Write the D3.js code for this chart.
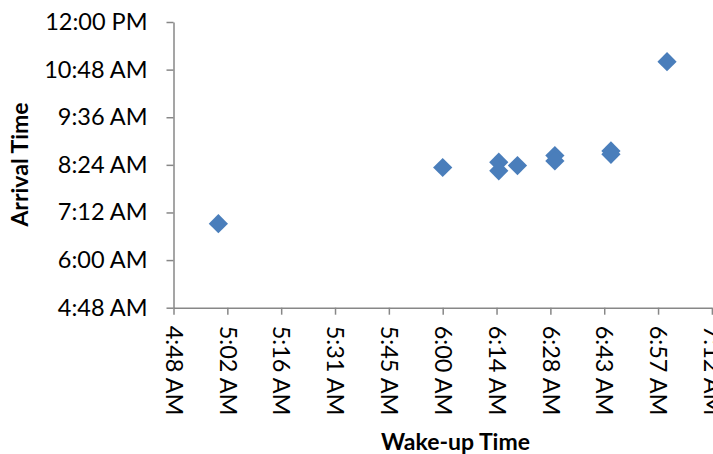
<!DOCTYPE html>
<html>
<head>
<meta charset="utf-8">
<script src="https://cdn.jsdelivr.net/npm/d3@7"></script>
<style>
  html, body { margin: 0; padding: 0; background: #fff; }
  svg { display: block; }
  text { font-family: Lato, "Open Sans", sans-serif; fill: #000; }
</style>
</head>
<body>
<svg id="chart" width="713" height="454"></svg>
<script>
// Data (times as h:mm, 24h)
const wakeTimes    = ["5:00", "6:00", "6:15", "6:15", "6:20", "6:30", "6:30", "6:45", "6:45", "7:00"];
const arrivalTimes = ["6:55", "8:20", "8:28", "8:15", "8:23", "8:38", "8:30", "8:45", "8:40", "11:00"];
const xTickLabels = ["4:48 AM", "5:02 AM", "5:16 AM", "5:31 AM", "5:45 AM", "6:00 AM", "6:14 AM", "6:28 AM", "6:43 AM", "6:57 AM", "7:12 AM"];
const yTickLabels = ["4:48 AM", "6:00 AM", "7:12 AM", "8:24 AM", "9:36 AM", "10:48 AM", "12:00 PM"];
const xTitle = "Wake-up Time";
const yTitle = "Arrival Time";

(function () {
const toMin = s => { const [h, m] = s.split(":").map(Number); return h * 60 + m; };

const svg = d3.select("#chart");
const pLeft = 173.5, pRight = 711.9, pTop = 22, pBottom = 307.7;
const axisColor = "#878787";

const x = d3.scaleLinear().domain([288, 432]).range([pLeft, pRight]);
const y = d3.scaleLinear().domain([288, 720]).range([pBottom, pTop]);

const xTickVals = xTickLabels.map((d, i) => 288 + i * 14.4);
const yTickVals = yTickLabels.map((d, i) => 288 + i * 72);

// Y axis
const yAxis = d3.axisLeft(y).tickValues(yTickVals)
  .tickFormat((d, i) => yTickLabels[i]).tickSize(7).tickSizeOuter(0).tickPadding(19);
const gy = svg.append("g").attr("transform", `translate(${pLeft},0)`).call(yAxis);
gy.select(".domain").attr("stroke", axisColor).attr("stroke-width", 1.5);
gy.selectAll(".tick line").attr("stroke", axisColor).attr("stroke-width", 1.5);
gy.selectAll(".tick text").style("font-size", "23.5px").style("font-family", "Lato, sans-serif").attr("fill", "#000");

// X axis
const xAxis = d3.axisBottom(x).tickValues(xTickVals)
  .tickFormat((d, i) => xTickLabels[i]).tickSize(7).tickSizeOuter(0);
const gx = svg.append("g").attr("transform", `translate(0,${pBottom})`).call(xAxis);
gx.select(".domain").attr("stroke", axisColor).attr("stroke-width", 1.5);
gx.selectAll(".tick line").attr("stroke", axisColor).attr("stroke-width", 1.5);
gx.selectAll(".tick text")
  .style("font-size", "23.5px").style("font-family", "Lato, sans-serif").attr("fill", "#000")
  .attr("text-anchor", "start")
  .attr("transform", "rotate(90)")
  .attr("x", 18).attr("y", 0).attr("dy", "0.35em");

// Points (diamonds)
const pts = wakeTimes.map((w, i) => ({ w: toMin(w), a: toMin(arrivalTimes[i]) }));
const sym = d3.symbol().type(d3.symbolSquare).size(185);
svg.append("g").selectAll("path").data(pts).join("path")
  .attr("d", sym)
  .attr("transform", d => `translate(${x(d.w)},${y(d.a)}) rotate(45)`)
  .attr("fill", "#4A7EBB");

// Titles
svg.append("text")
  .attr("x", 455.5).attr("y", 450)
  .attr("text-anchor", "middle")
  .style("font-size", "23px").style("font-weight", "bold")
  .text(xTitle);

svg.append("text")
  .attr("transform", `translate(28,164.5) rotate(-90)`)
  .attr("text-anchor", "middle")
  .style("font-size", "23px").style("font-weight", "bold")
  .text(yTitle);
})();
</script>
</body>
</html>
